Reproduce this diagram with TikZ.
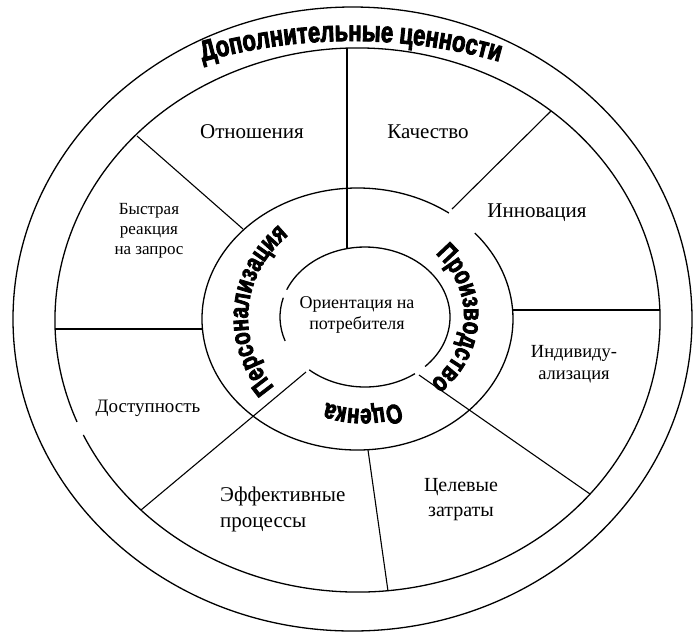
\documentclass[tikz,border=0pt]{standalone}
\usepackage{fontspec}
\setmainfont{Liberation Serif}
\newfontfamily\arcfamily[FakeStretch=0.76,FakeBold=3]{Liberation Sans}
\usetikzlibrary{decorations.text}
\newcommand\ArcTopFont{\arcfamily\bfseries\fontsize{29}{29}\selectfont}
\newcommand\ArcInFont{\arcfamily\bfseries\fontsize{27}{27}\selectfont}
\begin{document}
\begin{tikzpicture}[x=1pt,y=1pt,
  ring/.style={line width=1.3pt},
  spoke/.style={line width=1.1pt},
  lbl/.style={inner sep=0pt, align=center, font=\fontsize{21}{26}\selectfont},
  arclabel/.style={decorate, decoration={text along path, text align=center, text={#1}}}]
\useasboundingbox (0,0) rectangle (693,-633);

% centres of the rings
\coordinate (cOut) at (352.5,-319);
\coordinate (cMid) at (357.5,-320);
\coordinate (cRing) at (357.5,-319);
\coordinate (cCore) at (365,-317);

% outer band and segment ring
\draw[ring] (cOut) ellipse[x radius=339.5pt, y radius=312pt];
\draw[ring] (cMid) ++(205:302.5pt and 272pt)
  arc[start angle=205, end angle=562, x radius=302.5pt, y radius=272pt];
% inner ring
\draw[ring] (cRing) ++(54:155.5pt and 131pt)
  arc[start angle=54, end angle=401, x radius=155.5pt, y radius=131pt];
% core, drawn in pieces
\draw[ring] (cCore) ++(-45:85pt and 70pt)
  arc[start angle=-45, end angle=157, x radius=85pt, y radius=70pt];
\draw[ring] (cCore) ++(164:85pt and 70pt)
  arc[start angle=164, end angle=200, x radius=85pt, y radius=70pt];
\draw[ring] (cCore) ++(229:85pt and 70pt)
  arc[start angle=229, end angle=306, x radius=85pt, y radius=70pt];

% spokes
\coordinate (s1a) at (347,-48);   \coordinate (s1b) at (347,-249);
\coordinate (s2a) at (137,-136);  \coordinate (s2b) at (243,-229);
\coordinate (s3a) at (551,-111);  \coordinate (s3b) at (452,-209);
\coordinate (s4a) at (55,-329);   \coordinate (s4b) at (202,-329);
\coordinate (s5a) at (660,-310);  \coordinate (s5b) at (513,-310);
\coordinate (s6a) at (141,-510);  \coordinate (s6b) at (306,-372);
\coordinate (s7a) at (590,-494);  \coordinate (s7b) at (419,-375);
\coordinate (s8a) at (388,-591);  \coordinate (s8b) at (368,-450);
\foreach \s in {1,...,8} { \draw[spoke] (s\s a) -- (s\s b); }

% curved headings
\path[arclabel={|\ArcTopFont|Дополнительные ценности}]
  (351,-584) ++(114:543pt) arc[start angle=114, end angle=66, radius=543pt];
\path[arclabel={|\ArcInFont|Персонализация}]
  (362,-318) ++(230:114pt and 108pt) arc[start angle=230, end angle=120, x radius=114pt, y radius=108pt];
\path[arclabel={|\ArcInFont|Производство}]
  (366,-316) ++(50:98pt and 88pt) arc[start angle=50, end angle=-54, x radius=98pt, y radius=88pt];
\path[arclabel={|\ArcInFont|Оценка}]
  (363,-317) ++(305:100pt and 92pt) arc[start angle=305, end angle=235, x radius=100pt, y radius=92pt];

% segment labels
\node[lbl] (otn) at (252,-132) {Отношения};
\node[lbl] (kach) at (428,-132) {Качество};
\node[lbl] (innov) at (537,-213) {Инновация};
\node[lbl, font=\fontsize{17}{20}\selectfont] (bystr) at (149,-231) {Быстрая\\реакция\\на запрос};
\node[lbl, font=\fontsize{19}{24}\selectfont] (dost) at (148,-408) {Доступность};
\node[lbl, align=left, anchor=west] (eff) at (220,-509) {Эффективные\\процессы};
\node[lbl, font=\fontsize{20}{25}\selectfont] (cel) at (461,-500) {Целевые\\затраты};
\node[lbl, font=\fontsize{18.5}{22}\selectfont] (indiv) at (574,-364) {Индивиду-\\ализация};
\node[lbl, font=\fontsize{18}{21}\selectfont] (orient) at (357,-315) {Ориентация на\\потребителя};
\end{tikzpicture}
\end{document}
